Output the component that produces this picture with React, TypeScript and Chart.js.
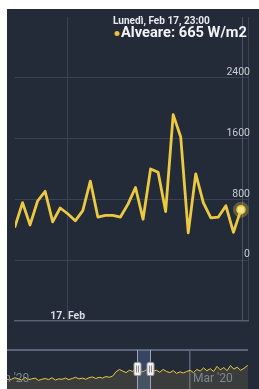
import React, { useEffect, useRef } from "react";
import { Chart, registerables } from "chart.js";

Chart.register(...registerables);

// ---------- data ----------
const SERIES_NAME = "Alveare";
const UNIT = "W/m2";
const TOOLTIP_HEADER = "Lunedì, Feb 17, 23:00";

// hours since Feb 16, 17:00 (hourly)
const hours = [0, 1, 2, 3, 4, 5, 6, 7, 8, 9, 10, 11, 12, 13, 14, 15, 16, 17, 18, 19, 20, 21, 22, 23, 24, 25, 26, 27, 28, 29, 30];
const irradiance = [442, 758, 464, 779, 906, 505, 687, 611, 518, 653, 1041, 568, 590, 590, 568, 738, 956, 539, 1200, 1158, 640, 1916, 1622, 359, 1137, 758, 556, 568, 716, 366, 665];

const yTicks = [0, 800, 1600, 2400];
const xGridTicks = [7, 31]; // Feb 17 00:00, Feb 18 00:00
const xTickLabels = ["17. Feb"];
const xTickLabelValues = [7];

// navigator: daily values, days since Jan 1 2020
const NAV_START_DAY = 4;
const navValues = [
  22, 27, 24, 25, 29, 26, 23, 30, 24, 26, 28, 22, 25, 27, 24, 29, 23, 26, 25, 28,
  24, 27, 30, 26, 28, 25, 29, 31, 27, 30, 28, 32, 30, 33,
  44, 50, 46, 42, 48, 45, 52, 47, 44, 49, 53, 46, 48, 43, 50, 45, 42, 47, 40, 44,
  41, 45, 48, 42, 50, 46, 54, 47, 52, 45, 58, 49, 55, 47, 60, 51, 56, 48, 53, 60, 57,
];
const navTickDays = [0, 60];
const navTickLabels = ["Jan '20", "Mar '20"];
const navWindow = [44.25, 48.1];
const NAV_MIN = 5.64;
const NAV_MAX = 77.2;

// ---------- styles ----------
const BG = "#232b39";
const GRID = "#3a4353";
const AXIS = "#566072";
const LINE = "#ebc942";
const FONT = "Roboto, 'Noto Sans', sans-serif";

function fitFont(ctx: CanvasRenderingContext2D, text: string, weight: string, target: number) {
  ctx.font = `${weight} 10px ${FONT}`;
  const w = ctx.measureText(text).width;
  const size = (10 * target) / w;
  ctx.font = `${weight} ${size}px ${FONT}`;
}

const mainOverlay = {
  id: "mainOverlay",
  beforeDatasetsDraw(chart: any) {
    const { ctx, chartArea, scales } = chart;
    const last = hours.length - 1;
    const x = scales.x.getPixelForValue(hours[last]);
    ctx.save();
    ctx.strokeStyle = "#4a5467";
    ctx.lineWidth = 1;
    ctx.beginPath();
    ctx.moveTo(Math.round(x) + 1.5, chartArea.top);
    ctx.lineTo(Math.round(x) + 1.5, chartArea.bottom);
    ctx.stroke();
    ctx.restore();
  },
  afterDraw(chart: any) {
    const { ctx, scales } = chart;
    ctx.save();
    // y labels
    ctx.fillStyle = "#c9cdd4";
    ctx.font = `normal 10.5px ${FONT}`;
    ctx.textAlign = "right";
    ctx.textBaseline = "middle";
    yTicks.forEach((v) => {
      const y = scales.y.getPixelForValue(v);
      ctx.fillText(String(v), 243, y - 5.5);
    });
    // x labels
    ctx.fillStyle = "#d9dce2";
    ctx.font = `bold 10.5px ${FONT}`;
    ctx.textAlign = "center";
    xTickLabels.forEach((t, i) => {
      const x = scales.x.getPixelForValue(xTickLabelValues[i]);
      ctx.fillText(t, x, 307.5);
    });
    // tooltip
    const last = irradiance.length - 1;
    ctx.textAlign = "left";
    ctx.fillStyle = "#e8eaee";
    fitFont(ctx, TOOLTIP_HEADER, "bold", 97);
    ctx.fillText(TOOLTIP_HEADER, 106, 12);
    const txt = `${SERIES_NAME}: ${irradiance[last]} ${UNIT}`;
    ctx.fillStyle = "#f2f3f5";
    fitFont(ctx, txt, "bold", 126);
    ctx.fillText(txt, 114, 24.5);
    ctx.fillStyle = "#e9c23a";
    ctx.beginPath();
    ctx.arc(110, 24.5, 2.5, 0, Math.PI * 2);
    ctx.fill();
    ctx.restore();
  },
};

const navOverlay = {
  id: "navOverlay",
  afterDatasetsDraw(chart: any) {
    const { ctx, chartArea, scales } = chart;
    ctx.save();
    // top outline
    ctx.strokeStyle = "#5b6579";
    ctx.lineWidth = 2;
    ctx.beginPath();
    ctx.moveTo(chartArea.left, chartArea.top);
    ctx.lineTo(chartArea.right, chartArea.top);
    ctx.stroke();
    // mask
    const x0 = scales.x.getPixelForValue(navWindow[0]);
    const x1 = scales.x.getPixelForValue(navWindow[1]);
    ctx.fillStyle = "rgba(102,133,194,0.3)";
    ctx.fillRect(x0, chartArea.top, x1 - x0, chartArea.bottom - chartArea.top);
    ctx.strokeStyle = "#9aa5bd";
    ctx.lineWidth = 1;
    [x0, x1].forEach((x) => {
      ctx.beginPath();
      ctx.moveTo(Math.round(x) + 0.5, chartArea.top);
      ctx.lineTo(Math.round(x) + 0.5, chartArea.bottom);
      ctx.stroke();
    });
    // handles
    [x0, x1].forEach((x) => {
      const hx = Math.round(x) - 3;
      const hy = 13.5;
      ctx.fillStyle = "#f0f0f0";
      ctx.strokeStyle = "#9a9a9a";
      ctx.beginPath();
      ctx.roundRect(hx, hy, 7, 13, 1.5);
      ctx.fill();
      ctx.stroke();
      ctx.strokeStyle = "#8a8a8a";
      ctx.beginPath();
      ctx.moveTo(hx + 2.5, hy + 3);
      ctx.lineTo(hx + 2.5, hy + 10);
      ctx.moveTo(hx + 4.5, hy + 3);
      ctx.lineTo(hx + 4.5, hy + 10);
      ctx.stroke();
    });
    // labels
    ctx.fillStyle = "#7f8694";
    ctx.font = `normal 12px ${FONT}`;
    ctx.textAlign = "left";
    ctx.textBaseline = "middle";
    navTickLabels.forEach((t, i) => {
      const x = scales.x.getPixelForValue(navTickDays[i]);
      ctx.fillText(t, x + 3, 30);
    });
    ctx.restore();
  },
};

export default function App() {
  const mainRef = useRef<HTMLCanvasElement>(null);
  const navRef = useRef<HTMLCanvasElement>(null);

  useEffect(() => {
    const last = irradiance.length - 1;
    const main = new Chart(mainRef.current as HTMLCanvasElement, {
      type: "line",
      data: {
        datasets: [
          {
            label: SERIES_NAME,
            data: hours.map((h, i) => ({ x: h, y: irradiance[i] })),
            borderColor: LINE,
            borderWidth: 2.8,
            borderJoinStyle: "round",
            borderCapStyle: "round",
            tension: 0,
            pointRadius: (c: any) => (c.dataIndex === last ? 4 : 0),
            pointBackgroundColor: "#f5e38c",
            pointBorderColor: LINE,
            pointBorderWidth: 1.5,
            order: 0,
          },
          {
            label: "halo",
            data: hours.map((h, i) => ({ x: h, y: i === last ? irradiance[i] : null })),
            showLine: false,
            pointRadius: 8,
            pointBackgroundColor: "rgba(235,203,69,0.3)",
            pointBorderWidth: 0,
            order: 1,
          },
        ] as any,
      },
      options: {
        responsive: false,
        animation: false,
        events: [],
        layout: { padding: { left: 0, top: 0, right: 10.5, bottom: 5 } },
        plugins: { legend: { display: false }, tooltip: { enabled: false } },
        scales: {
          x: {
            type: "linear",
            min: 0,
            max: 31,
            ticks: { display: false },
            afterBuildTicks: (s: any) => {
              s.ticks = xGridTicks.map((v) => ({ value: v }));
            },
            afterFit: (s: any) => {
              s.height = 0;
            },
            grid: { color: GRID, lineWidth: 1, drawTicks: false },
            border: { display: true, color: AXIS, width: 1.5 },
          },
          y: {
            position: "right",
            min: -800,
            max: 3200,
            ticks: { display: false },
            afterBuildTicks: (s: any) => {
              s.ticks = yTicks.map((v) => ({ value: v }));
            },
            afterFit: (s: any) => {
              s.width = 0;
            },
            grid: { color: GRID, lineWidth: 1, drawTicks: false },
            border: { display: false },
          },
        },
      } as any,
      plugins: [mainOverlay],
    });

    const nav = new Chart(navRef.current as HTMLCanvasElement, {
      type: "line",
      data: {
        datasets: [
          {
            data: navValues.map((v, i) => ({ x: NAV_START_DAY + i, y: v })),
            borderColor: LINE,
            borderWidth: 1,
            pointRadius: 0,
            tension: 0,
            fill: "start",
            backgroundColor: "rgba(200,180,80,0.14)",
          },
        ] as any,
      },
      options: {
        responsive: false,
        animation: false,
        events: [],
        layout: { padding: { left: 0, top: 1, right: 11, bottom: 0 } },
        plugins: { legend: { display: false }, tooltip: { enabled: false } },
        scales: {
          x: {
            type: "linear",
            min: NAV_MIN,
            max: NAV_MAX,
            ticks: { display: false },
            afterBuildTicks: (s: any) => {
              s.ticks = navTickDays.filter((d) => d >= NAV_MIN).map((v) => ({ value: v }));
            },
            afterFit: (s: any) => {
              s.height = 0;
            },
            grid: { color: "#5a6478", lineWidth: 1.5, drawTicks: false },
            border: { display: false },
          },
          y: { display: false, min: 0, max: 100 },
        },
      } as any,
      plugins: [navOverlay],
    });

    return () => {
      main.destroy();
      nav.destroy();
    };
  }, []);

  return (
    <div
      style={{
        position: "absolute",
        left: 7,
        top: 9,
        width: 252,
        height: 380,
        background: BG,
        overflow: "hidden",
      }}
    >
      <canvas ref={mainRef} width={252} height={320} style={{ position: "absolute", left: 0, top: 0 }} />
      <canvas ref={navRef} width={252} height={40} style={{ position: "absolute", left: 0, top: 340 }} />
    </div>
  );
}
